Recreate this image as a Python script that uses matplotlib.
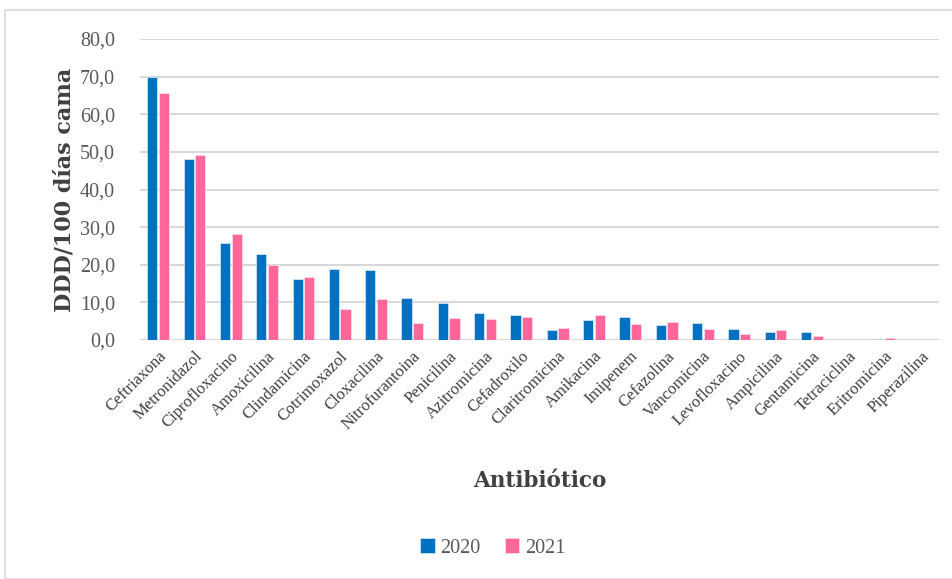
import matplotlib.pyplot as plt
import numpy as np
from matplotlib.patches import Rectangle
from matplotlib.ticker import FuncFormatter

antibioticos = ['Ceftriaxona', 'Metronidazol', 'Ciprofloxacino', 'Amoxicilina', 'Clindamicina',
                'Cotrimoxazol', 'Cloxacilina', 'Nitrofurantoina', 'Penicilina', 'Azitromicina',
                'Cefadroxilo', 'Claritromicina', 'Amikacina', 'Imipenem', 'Cefazolina',
                'Vancomicina', 'Levofloxacino', 'Ampicilina', 'Gentamicina', 'Tetraciclina',
                'Eritromicina', 'Piperazilina']
v2020 = [69.8, 48.1, 25.9, 22.8, 16.3, 18.8, 18.5, 11.2, 9.9, 7.2, 6.6, 2.7, 5.2, 6.1, 3.9,
         4.5, 2.8, 2.0, 2.0, 0.0, 0.3, 0.0]
v2021 = [65.6, 49.1, 28.2, 19.9, 16.7, 8.2, 10.8, 4.5, 5.8, 5.5, 6.1, 3.3, 6.6, 4.3, 4.7,
         2.8, 1.5, 2.6, 1.0, 0.1, 0.4, 0.0]
serie = ['2020', '2021']

fig = plt.figure(figsize=(9.53, 5.79), dpi=100)
fig.patches.append(Rectangle((5/953, 0), 1, 1 - 10/579, transform=fig.transFigure,
                             fill=False, edgecolor='#D9D9D9', lw=1.2))
ax = fig.add_axes([140/953, 1 - 340/579, 799/953, 301/579])

x = np.arange(len(antibioticos))
w = 0.28
ax.bar(x - w/2 - 0.02, v2020, width=w, color='#0070C0', edgecolor='#DDEBF7', lw=0.5, label=serie[0], zorder=3)
ax.bar(x + w/2 + 0.02, v2021, width=w, color='#FF6699', edgecolor='#FFE0EA', lw=0.5, label=serie[1], zorder=3)

ax.set_xlim(-0.5, len(antibioticos) - 0.5)
ax.set_ylim(0, 80)
ax.set_yticks(np.arange(0, 81, 10))
ax.yaxis.set_major_formatter(FuncFormatter(lambda v, p: f'{v:.1f}'.replace('.', ',')))
ax.grid(axis='y', color='#D9D9D9', lw=1.5, zorder=0)
ax.axhline(0, color='#D9D9D9', lw=1.5, zorder=1)
for s in ax.spines.values():
    s.set_visible(False)
ax.tick_params(axis='both', length=0)
ax.tick_params(axis='y', labelsize=14.5, labelcolor='#595959', pad=18)
for t in ax.get_yticklabels():
    t.set_family('Liberation Serif')
ax.set_xticks(x)
ax.set_xticklabels(antibioticos, rotation=45, ha='right', rotation_mode='anchor',
                   family='Liberation Serif', fontsize=12, color='#404040')
ax.tick_params(axis='x', pad=6)

ax.set_ylabel('DDD/100 días cama', family='DejaVu Serif', fontweight='bold', fontsize=16,
              color='#404040', labelpad=3)
fig.text(540/953, 1 - 481/579, 'Antibiótico', family='DejaVu Serif', fontweight='bold',
         fontsize=15.5, color='#404040', ha='center', va='center')

leg = fig.legend(loc='center', bbox_to_anchor=(493/953, 1 - 548/579), ncol=2, frameon=False,
                 handlelength=0.7, handleheight=0.7, handletextpad=0.3, columnspacing=1.2,
                 prop={'family': 'Liberation Serif', 'size': 14.5})
for t in leg.get_texts():
    t.set_color('#595959')

fig.savefig('out.png', dpi=100)
